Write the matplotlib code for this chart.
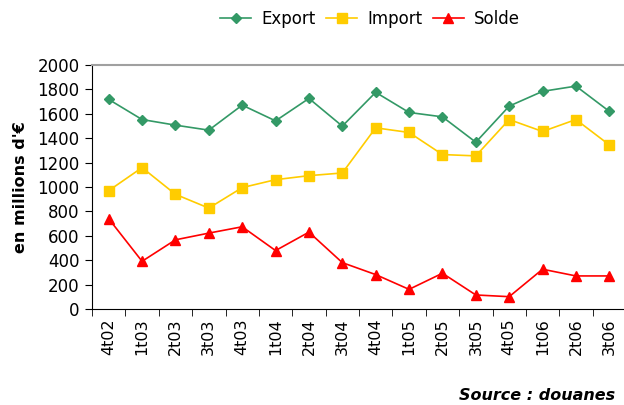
import numpy as np
import matplotlib.pyplot as plt

quarters = ['4t02', '1t03', '2t03', '3t03', '4t03', '1t04', '2t04', '3t04',
            '4t04', '1t05', '2t05', '3t05', '4t05', '1t06', '2t06', '3t06']
export = [1718, 1553, 1507, 1466, 1671, 1542, 1726, 1499,
          1776, 1611, 1575, 1367, 1663, 1784, 1827, 1620]
imports = [970, 1159, 940, 827, 995, 1060, 1093, 1115,
           1485, 1447, 1266, 1255, 1553, 1455, 1553, 1345]
solde = [740, 391, 567, 622, 674, 479, 630, 380,
         282, 161, 293, 115, 101, 326, 271, 271]

fig = plt.figure(figsize=(6.24, 4.05), dpi=100)
ax = fig.add_axes([92 / 624, 1 - 309 / 405, 534 / 624, 244 / 405])

x = np.arange(len(quarters))
ax.plot(x, export, '-D', color='#339966', markersize=5, linewidth=1.2, label='Export')
ax.plot(x, imports, '-s', color='#FFCC00', markersize=7, linewidth=1.2, label='Import')
ax.plot(x, solde, '-^', color='#FF0000', markersize=7, linewidth=1.2, label='Solde')

ax.set_xlim(-0.5, len(quarters) - 0.5)
ax.set_ylim(0, 2000)
ax.set_yticks(range(0, 2001, 200))
ax.tick_params(axis='y', labelsize=12, direction='out', length=5, pad=4)

ax.set_xticks(x)
ax.set_xticklabels(quarters, rotation=90, fontsize=11.5)
ax.tick_params(axis='x', length=0, pad=7)
ax.set_xticks(np.arange(-0.5, len(quarters)), minor=True)
ax.tick_params(axis='x', which='minor', length=5, direction='out')

ax.spines['right'].set_visible(False)
ax.spines['top'].set_color('#a0a0a0')
ax.spines['top'].set_linewidth(1.5)

ax.set_ylabel("en millions d'€", fontsize=11.5, fontweight='bold', labelpad=7)

fig.legend(loc='center', bbox_to_anchor=(370 / 624, 1 - 19 / 405), ncol=3,
           frameon=False, fontsize=12, handlelength=1.9, columnspacing=0.6,
           handletextpad=0.6)

fig.text(615 / 624, 1 - 396 / 405, 'Source : douanes', ha='right', va='center',
         fontsize=11.5, fontweight='bold', style='italic')

fig.savefig('out.png', dpi=100)
